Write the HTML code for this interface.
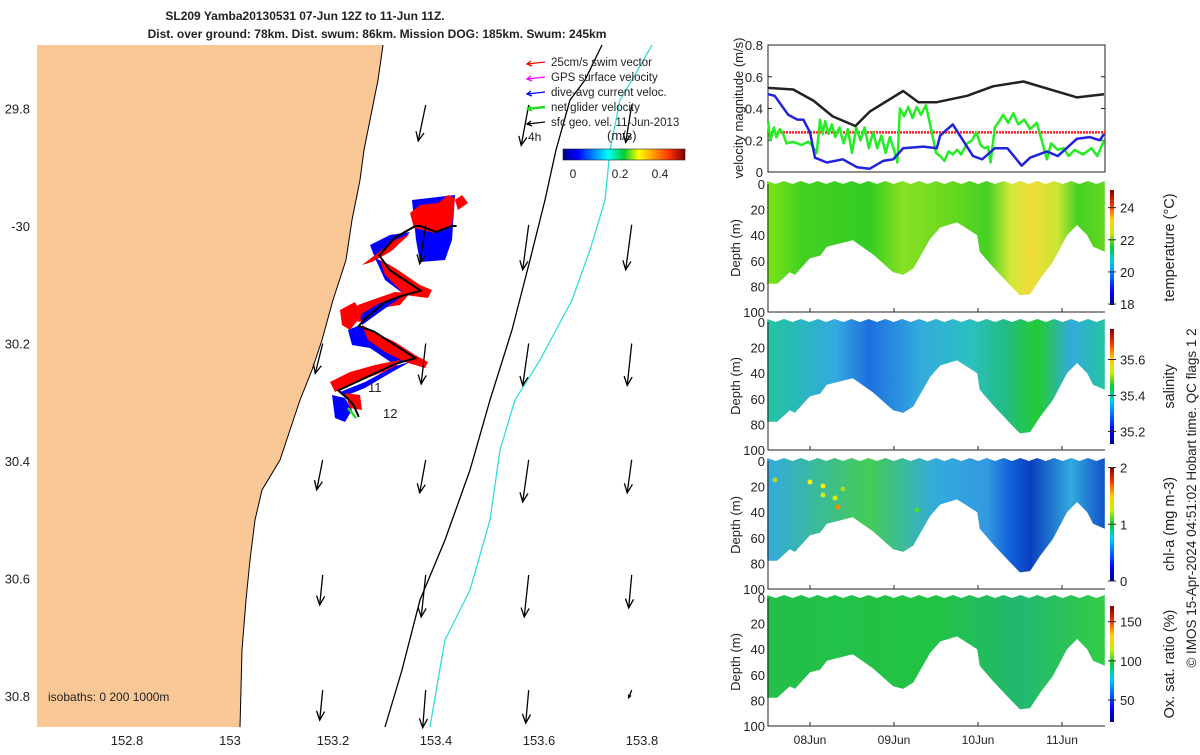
<!DOCTYPE html>
<html><head><meta charset="utf-8"><style>
body{margin:0;background:#fff;width:1200px;height:750px;overflow:hidden;font-family:"Liberation Sans",sans-serif}
svg text{font-family:"Liberation Sans",sans-serif;fill:#222}
</style></head><body>
<svg id="fig" width="1200" height="750" viewBox="0 0 1200 750">
<defs>
<linearGradient id="jet" x1="0" x2="1" y1="0" y2="0">
<stop offset="0" stop-color="#00008f"/><stop offset="0.12" stop-color="#0000ff"/><stop offset="0.37" stop-color="#00ffff"/><stop offset="0.5" stop-color="#00cc33"/><stop offset="0.62" stop-color="#ffff00"/><stop offset="0.87" stop-color="#ff3300"/><stop offset="1" stop-color="#800000"/></linearGradient>
<linearGradient id="jetv" x1="0" x2="0" y1="1" y2="0">
<stop offset="0" stop-color="#00008f"/><stop offset="0.12" stop-color="#0000ff"/><stop offset="0.37" stop-color="#00ccff"/><stop offset="0.5" stop-color="#00cc33"/><stop offset="0.62" stop-color="#ccee00"/><stop offset="0.75" stop-color="#ffcc00"/><stop offset="0.87" stop-color="#ff3300"/><stop offset="1" stop-color="#800000"/></linearGradient>
<linearGradient id="gT" x1="768" x2="1105" gradientUnits="userSpaceOnUse">
<stop offset="0" stop-color="#7ae414"/><stop offset="0.1" stop-color="#44d022"/><stop offset="0.3" stop-color="#33cc22"/><stop offset="0.4" stop-color="#88e022"/><stop offset="0.55" stop-color="#66d820"/><stop offset="0.65" stop-color="#44d022"/><stop offset="0.72" stop-color="#d0e838"/><stop offset="0.78" stop-color="#f2dc3a"/><stop offset="0.86" stop-color="#c8e633"/><stop offset="0.92" stop-color="#44d022"/><stop offset="1" stop-color="#66d820"/></linearGradient>
<linearGradient id="gS" x1="768" x2="1105" gradientUnits="userSpaceOnUse">
<stop offset="0" stop-color="#22c4a0"/><stop offset="0.2" stop-color="#33aadd"/><stop offset="0.3" stop-color="#1e6fe0"/><stop offset="0.45" stop-color="#33aadd"/><stop offset="0.6" stop-color="#2cc0c0"/><stop offset="0.7" stop-color="#22bb88"/><stop offset="0.8" stop-color="#22cc33"/><stop offset="0.9" stop-color="#33aadd"/><stop offset="1" stop-color="#22c4a0"/></linearGradient>
<linearGradient id="gC" x1="768" x2="1105" gradientUnits="userSpaceOnUse">
<stop offset="0" stop-color="#33aadd"/><stop offset="0.3" stop-color="#44cc55"/><stop offset="0.5" stop-color="#33aadd"/><stop offset="0.65" stop-color="#3399e0"/><stop offset="0.72" stop-color="#1060d8"/><stop offset="0.78" stop-color="#0a40c0"/><stop offset="0.9" stop-color="#33aadd"/><stop offset="1" stop-color="#1050c8"/></linearGradient>
<linearGradient id="gO" x1="768" x2="1105" gradientUnits="userSpaceOnUse">
<stop offset="0" stop-color="#22c04a"/><stop offset="0.5" stop-color="#22c244"/><stop offset="0.75" stop-color="#22b870"/><stop offset="1" stop-color="#33cc44"/></linearGradient>
</defs>
</svg>
<script>
// ----- data -----
const velDays=[7.5,7.8,8.04,8.27,8.54,8.71,9.11,9.29,9.51,9.87,10.18,10.54,11.18,11.5];
const velBlack=[0.53,0.52,0.45,0.35,0.29,0.38,0.51,0.44,0.44,0.48,0.54,0.57,0.47,0.49];
const blueDays=[7.5,7.58,7.74,7.85,7.92,8.0,8.06,8.2,8.39,8.56,8.71,8.87,8.99,9.11,9.35,9.51,9.55,9.7,9.94,10.05,10.2,10.35,10.52,10.62,10.82,10.95,11.18,11.33,11.45,11.5];
const velBlue=[0.49,0.48,0.36,0.33,0.33,0.25,0.09,0.06,0.08,0.03,0.02,0.07,0.08,0.15,0.16,0.15,0.23,0.3,0.1,0.08,0.15,0.15,0.04,0.09,0.13,0.1,0.21,0.22,0.2,0.24];
const greenDays=[7.5,7.53,7.57,7.6,7.64,7.68,7.72,7.8,7.9,7.98,8.02,8.08,8.12,8.15,8.18,8.22,8.26,8.3,8.35,8.4,8.45,8.5,8.55,8.6,8.65,8.7,8.75,8.8,8.85,8.9,8.95,9.0,9.04,9.07,9.12,9.17,9.22,9.27,9.32,9.38,9.45,9.5,9.55,9.6,9.65,9.7,9.75,9.8,9.87,9.93,9.98,10.03,10.08,10.12,10.15,10.2,10.24,10.3,10.36,10.42,10.48,10.55,10.62,10.7,10.78,10.82,10.87,10.95,11.02,11.08,11.15,11.25,11.35,11.42,11.5];
const velGreen=[0.32,0.2,0.28,0.22,0.27,0.24,0.18,0.19,0.17,0.19,0.17,0.12,0.33,0.24,0.32,0.24,0.3,0.22,0.28,0.18,0.27,0.12,0.28,0.2,0.28,0.15,0.25,0.15,0.23,0.12,0.22,0.14,0.06,0.4,0.35,0.41,0.34,0.41,0.36,0.42,0.25,0.12,0.1,0.07,0.13,0.11,0.14,0.11,0.18,0.2,0.25,0.17,0.15,0.16,0.06,0.28,0.31,0.36,0.31,0.37,0.3,0.33,0.27,0.31,0.16,0.08,0.18,0.14,0.15,0.1,0.14,0.11,0.15,0.1,0.2];
const swimSpeed=0.25;
const bottomDays=[7.49,7.61,7.76,7.82,8.0,8.12,8.2,8.51,8.75,8.99,9.11,9.23,9.43,9.55,9.75,9.87,9.99,10.02,10.18,10.38,10.5,10.62,10.74,10.89,11.06,11.18,11.3,11.37,11.51];
const bottomDepth=[78,78,69,71,58,56,49,44,55,69,71,66,43,34,30,35,40,53,65,79,87,86,74,61,40,32,40,49,53];
const dateTicks=[8,9,10,11];
const dateLabels=["08Jun","09Jun","10Jun","11Jun"];
const lonTicks=[152.8,153,153.2,153.4,153.6,153.8];
const latTicks=[29.8,30,30.2,30.4,30.6,30.8];
const latLabels=["29.8","-30","30.2","30.4","30.6","30.8"];
const trackLon=[153.44,153.43,153.40,153.37,153.36,153.32,153.29,153.31,153.37,153.33,153.30,153.26,153.25,153.28,153.36,153.32,153.21,153.23,153.24,153.25];
const trackLat=[-30.0,-30.0,-30.01,-30.0,-30.0,-30.02,-30.05,-30.075,-30.11,-30.12,-30.13,-30.16,-30.17,-30.18,-30.225,-30.235,-30.28,-30.295,-30.305,-30.325];
const arrowLon=[153.38,153.58,153.78, 153.38,153.58,153.78, 153.18,153.38,153.58,153.78, 153.18,153.38,153.58,153.78, 153.18,153.38,153.58,153.78, 153.18,153.38,153.58,153.78];
const arrowLat=[-29.794,-29.794,-29.794, -29.998,-29.998,-29.998, -30.2,-30.2,-30.2,-30.2, -30.398,-30.398,-30.398,-30.398, -30.594,-30.594,-30.594,-30.594, -30.79,-30.79,-30.79,-30.79];
const arrowU=[-0.05,-0.05,-0.04, -0.04,-0.04,-0.04, -0.05,-0.03,-0.04,-0.03, -0.04,-0.04,-0.04,-0.03, -0.02,-0.03,-0.03,-0.02, -0.02,-0.02,-0.02,-0.02];
const arrowV=[-0.24,-0.27,-0.25, -0.26,-0.3,-0.3, -0.2,-0.27,-0.28,-0.28, -0.2,-0.22,-0.28,-0.22, -0.2,-0.28,-0.28,-0.22, -0.2,-0.25,-0.22,-0.05];
const tempTicks=[24,22,20,18], tempRange=[17.94,25.1];
const salTicks=[35.6,35.4,35.2], salRange=[35.13,35.77];
const chlTicks=[2,1,0], chlRange=[0,2.01];
const oxTicks=[150,100,50], oxRange=[22,170];

// ----- helpers -----
const NS="http://www.w3.org/2000/svg";
const svg=document.getElementById('fig');
function el(tag,attrs,parent,txt){const e=document.createElementNS(NS,tag);for(const k in attrs)e.setAttribute(k,attrs[k]);if(txt!==undefined)e.textContent=txt;(parent||svg).appendChild(e);return e;}
const lonX=v=>230+(v-153)*(103/0.2);
const latY=v=>226+(-v-30)*(117.5/0.2);
const RX0=768,RX1=1105;
const dX=d=>810+(d-8)*84;
const vY=v=>172-v*(127/0.8);

// ===== MAP =====
const map=el('g',{});


const coastPts="383,45 378,80 372,110 364,150 360,180 352,220 346,260 333,300 322,340 312,370 300,400 290,430 280,460 262,490 255,520 250,560 246,600 242,650 240,727";
const land=el('polygon',{points:"37,45 "+coastPts+" 37,727",fill:"#fac896"},map);


const coast=el('polyline',{points:coastPts,fill:"none",stroke:"#000","stroke-width":1},map);


const iso1=el('path',{d:"M602,45 L585,80 L570,100 L556,150 L545,200 L530,260 L512,330 L490,400 L470,470 L445,540 L420,600 L402,670 L385,727",fill:"none",stroke:"#000","stroke-width":1.3},map);


const iso2=el('path',{d:"M652,45 L632,80 L620,100 L610,150 L605,200 L590,250 L572,300 L540,360 L515,400 L500,450 L490,520 L470,590 L445,640 L438,680 L430,727",fill:"none",stroke:"#33dddd","stroke-width":1.3},map);


const blobs=[
["#0000ff","M412,200 L455,195 L452,240 L445,260 L420,262 L416,240 Z"],
["#ff0000","M410,213 L420,205 L438,203 L448,195 L455,198 L452,225 L435,233 L414,228 Z"],
["#ff0000","M455,200 L462,195 L468,203 L458,210 Z"],
["#0000ff","M370,245 L390,235 L410,232 L393,250 L375,258 Z"],
["#ff0000","M362,265 L375,255 L395,240 L410,234 L390,252 L372,262 Z"],
["#0000ff","M375,258 L390,265 L415,290 L405,295 L385,280 Z"],
["#ff0000","M380,260 L395,268 L420,285 L432,290 L428,298 L405,295 L385,275 Z"],
["#ff0000","M345,318 L358,305 L372,300 L395,292 L410,293 L400,305 L380,308 L360,322 Z"],
["#0000ff","M360,315 L380,303 L400,298 L380,312 L362,325 Z"],
["#ff0000","M340,310 L355,302 L362,315 L350,330 L342,325 Z"],
["#0000ff","M348,330 L360,325 L375,340 L395,352 L410,360 L395,365 L370,348 L352,345 Z"],
["#ff0000","M362,325 L380,335 L395,342 L415,355 L428,362 L425,368 L405,362 L385,352 L368,340 Z"],
["#ff0000","M330,382 L350,372 L375,365 L400,360 L395,368 L375,375 L350,385 L335,392 Z"],
["#0000ff","M340,392 L365,382 L395,366 L410,362 L392,372 L365,388 L345,396 Z"],
["#0000ff","M332,395 L345,398 L352,410 L345,422 L335,418 Z"],
["#ff0000","M345,393 L360,395 L362,410 L350,408 Z"]];
blobs.forEach(b=>{const p=el('path',{d:b[1],fill:b[0]},map);

});
let td="";trackLon.forEach((v,i)=>{td+=(i?"L":"M")+lonX(v).toFixed(1)+","+latY(trackLat[i]).toFixed(1)+" ";});
const track=el('path',{d:td,fill:"none",stroke:"#000","stroke-width":2},map);


const gv=el('line',{x1:348,y1:408,x2:356,y2:418,stroke:"#22dd22","stroke-width":2.5},map);


el('text',{x:368,y:392,"font-size":13},map,"11");
el('text',{x:383,y:418,"font-size":13},map,"12");
el('text',{x:528,y:141,"font-size":12},map,"4h");
arrowLon.forEach((lo,i)=>{
 const x=lonX(lo),y=latY(arrowLat[i]);const sc=150;
 const dx=arrowU[i]*sc,dy=-arrowV[i]*sc;
 const x2=x+dx,y2=y+dy;const L=Math.hypot(dx,dy)||1;const ux=dx/L,uy=dy/L;
 const a=el('g',{},map);
 
 
 el('line',{x1:x,y1:y,x2:x2,y2:y2,stroke:"#000","stroke-width":1.3},a);
 const hs=Math.min(9,L*0.35);
 el('path',{d:`M${x2-hs*ux+hs*0.45*uy},${y2-hs*uy-hs*0.45*ux} L${x2},${y2} L${x2-hs*ux-hs*0.45*uy},${y2-hs*uy+hs*0.45*ux}`,fill:"none",stroke:"#000","stroke-width":1.3},a);
});
lonTicks.forEach(v=>{const t=el('text',{x:lonX(v),y:745,"font-size":13,"text-anchor":"middle"},map,String(v));

});
latTicks.forEach((v,i)=>{const t=el('text',{x:30,y:latY(-v)+5,"font-size":13,"text-anchor":"end"},map,latLabels[i]);

});
const iso=el('text',{x:48,y:701,"font-size":12},map,"isobaths: 0   200  1000m");


iso.setAttribute('xml:space','preserve');
const leg=el('g',{});


const legItems=[["#ff0000","25cm/s swim vector"],["#ff00ff","GPS surface velocity"],["#0000ff","dive-avg current veloc."],["#22dd22","net glider velocity"],["#000","sfc geo. vel. 11-Jun-2013"]];
legItems.forEach((it,i)=>{const y=62+i*15;
 el('line',{x1:545,y1:y,x2:527,y2:y+2,stroke:it[0],"stroke-width":i==3?2.5:1.3},leg);
 el('path',{d:`M531,${y-1} L527,${y+2} L532,${y+4}`,fill:"none",stroke:it[0],"stroke-width":1.3},leg);
 el('text',{x:551,y:y+4,"font-size":11.5},leg,it[1]);});
el('text',{x:607,y:140,"font-size":13},leg,"(m/s)");
const cb=el('rect',{x:563,y:149,width:122,height:11,fill:"url(#jet)",stroke:"#222","stroke-width":0.6},leg);


[["0",573],["0.2",620],["0.4",660]].forEach(t=>el('text',{x:t[1],y:178,"font-size":12,"text-anchor":"middle"},leg,t[0]));
const t1=el('text',{x:305,y:20,"font-size":12,"font-weight":"bold","text-anchor":"middle"},svg,"SL209 Yamba20130531 07-Jun 12Z to 11-Jun 11Z.");


const t2=el('text',{x:377,y:38,"font-size":12,"font-weight":"bold","text-anchor":"middle"},svg,"Dist. over ground: 78km. Dist. swum: 86km. Mission DOG: 185km. Swum: 245km");



// ===== VELOCITY PANEL =====
const vp=el('g',{});


el('rect',{x:RX0,y:45,width:RX1-RX0,height:127,fill:"#fff",stroke:"#222"},vp);
[0,0.2,0.4,0.6,0.8].forEach(v=>{el('line',{x1:RX0,y1:vY(v),x2:RX0+4,y2:vY(v),stroke:"#222"},vp);el('line',{x1:RX1,y1:vY(v),x2:RX1-4,y2:vY(v),stroke:"#222"},vp);
 el('text',{x:763,y:vY(v)+5,"font-size":13,"text-anchor":"end"},vp,String(v));});
function line(xs,ys,color,w,name){let d="";xs.forEach((x,i)=>{d+=(i?"L":"M")+dX(x).toFixed(1)+","+vY(ys[i]).toFixed(1)+" ";});
 const p=el('path',{d:d,fill:"none",stroke:color,"stroke-width":w,"stroke-linejoin":"round"},vp);
 
 }
const rl=el('line',{x1:RX0,y1:vY(swimSpeed),x2:RX1,y2:vY(swimSpeed),stroke:"#ff2222","stroke-width":2.5,"stroke-dasharray":"2 1"},vp);


line(greenDays,velGreen,"#22ee22",2.5,'net-glider-velocity-line');
line(blueDays,velBlue,"#2222dd",2.5,'current-velocity-line');
line(velDays,velBlack,"#222",2.5,'geostrophic-velocity-line');
const vyl=el('text',{x:0,y:0,"font-size":13,"text-anchor":"middle",transform:"translate(743,108) rotate(-90)"},vp,"velocity magnitude (m/s)");



// ===== SECTION PANELS =====
const panels=[
 {y0:184,fill:"url(#gT)",name:"temperature",label:"temperature (°C)",ticks:tempTicks,range:tempRange,cb:[190,305]},
 {y0:322,fill:"url(#gS)",name:"salinity",label:"salinity",ticks:salTicks,range:salRange,cb:[329,444]},
 {y0:461,fill:"url(#gC)",name:"chlorophyll",label:"chl-a (mg m-3)",ticks:chlTicks,range:chlRange,cb:[467,581]},
 {y0:598,fill:"url(#gO)",name:"oxygen",label:"Ox. sat. ratio (%)",ticks:oxTicks,range:oxRange,cb:[606,722]}];
panels.forEach(P=>{
 const g=el('g',{});
 
 
 const dY=d=>P.y0+d*1.28;
 let d="M"+dX(bottomDays[0])+","+dY(0)+" ";
 for(let k=0;k<=40;k++){const xd=7.49+k*(4.02/40);d+="L"+dX(xd).toFixed(1)+","+(dY(0)-(k%2?0:3))+" ";}
 for(let i=bottomDays.length-1;i>=0;i--)d+="L"+dX(bottomDays[i]).toFixed(1)+","+dY(bottomDepth[i]).toFixed(1)+" ";
 d+="Z";
 const sec=el('path',{d:d,fill:P.fill},g);
 
 
 el('polyline',{points:`${RX0},${P.y0} ${RX0},${dY(100)} ${RX1},${dY(100)}`,fill:"none",stroke:"#222"},g);
 [0,20,40,60,80,100].forEach(v=>{el('text',{x:765,y:dY(v)+5,"font-size":13,"text-anchor":"end"},g,String(v));});
 dateTicks.forEach(t=>el('line',{x1:dX(t),y1:dY(100),x2:dX(t),y2:dY(100)-4,stroke:"#222"},g));
 el('text',{x:0,y:0,"font-size":13,"text-anchor":"middle",transform:`translate(740,${P.y0+64}) rotate(-90)`},g,"Depth (m)");
 const c=el('rect',{x:1110,y:P.cb[0],width:4,height:P.cb[1]-P.cb[0],fill:"url(#jetv)"},g);
 
 
 const cy=v=>P.cb[1]-(v-P.range[0])/(P.range[1]-P.range[0])*(P.cb[1]-P.cb[0]);
 P.ticks.forEach(t=>{const y=cy(t);el('line',{x1:1108,y1:y,x2:1116,y2:y,stroke:"#222"},g);el('text',{x:1120,y:y+5,"font-size":13},g,String(t));});
 const lab=el('text',{x:0,y:0,"font-size":14.5,"text-anchor":"middle",transform:`translate(1174,${(P.cb[0]+P.cb[1])/2}) rotate(-90)`},g,P.label);
 
 
});
[[810,482,"#ffee00"],[823,486,"#ffee00"],[835,498,"#ddee11"],[838,507,"#ff8800"],[843,489,"#aadd22"],[823,495,"#ccee22"],[917,510,"#55dd22"],[775,480,"#aadd22"]].forEach(p=>{const c=el('circle',{cx:p[0],cy:p[1],r:2.5,fill:p[2]});
 
 });
dateLabels.forEach((l,i)=>{const t=el('text',{x:dX(dateTicks[i]),y:744,"font-size":12,"text-anchor":"middle"},svg,l);
 
 });
const note=el('text',{x:0,y:0,"font-size":13.5,"text-anchor":"middle",transform:"translate(1196,498) rotate(-90)"},svg,"© IMOS 15-Apr-2024 04:51:02 Hobart time. QC flags 1  2");


note.setAttribute('xml:space','preserve');
</script>
</body></html>
